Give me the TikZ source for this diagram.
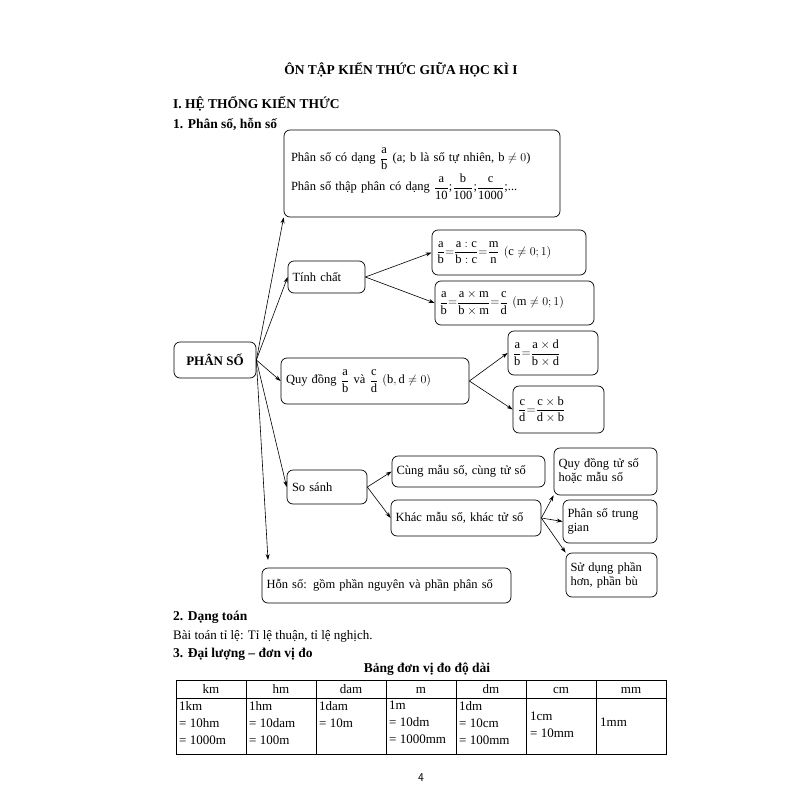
\documentclass[tikz,border=0pt]{standalone}
\usepackage{amsmath}
\usepackage{fontspec}
\setmainfont{Liberation Serif}
\usetikzlibrary{arrows.meta}
\begin{document}
\begin{tikzpicture}[x=1pt,y=-1pt,
  box/.style={draw,rounded corners=6pt,line width=0.7pt,inner sep=3pt,font=\fontsize{12.5}{14}\selectfont},
  ar/.style={-{Stealth[length=6pt,width=4pt]},line width=0.6pt},
  tx/.style={anchor=west,inner sep=0,font=\fontsize{13}{15}\selectfont},
  hd/.style={anchor=west,inner sep=0,font=\fontsize{13.5}{15}\selectfont\bfseries}]
\useasboundingbox (0,0) rectangle (803,803);
\newcommand{\fr}[2]{\ensuremath{\dfrac{\mathrm{#1}}{\mathrm{#2}}}}
\node[hd,anchor=center] (t) at (401,70) {ÔN TẬP KIẾN THỨC GIỮA HỌC KÌ I};
\node[hd] (h1) at (173,104) {I. HỆ THỐNG KIẾN THỨC};
\node[hd] (h2) at (173,124) {1. Phân số, hỗn số};
\node[box,minimum width=276,minimum height=87,text width=262,align=left] (top) at (422,173.5)
 {Phân số có dạng \fr{a}{b} (a; b là số tự nhiên, $\mathrm{b}\neq0$)\\[3pt]
  Phân số thập phân có dạng \fr{a}{10};\fr{b}{100};\fr{c}{1000};...};
\node[box,minimum width=77,minimum height=32,text width=68] (tc) at (326.5,277) {Tính chất};
\node[box,minimum width=154,minimum height=45,text width=145] (tc1) at (509,252.5) {\fr{a}{b}$=$\fr{a:c}{b:c}$=$\fr{m}{n} $(\mathrm c\neq0;1)$};
\node[box,minimum width=159,minimum height=44,text width=150] (tc2) at (514.5,303) {\fr{a}{b}$=$\fr{a\times m}{b\times m}$=$\fr{c}{d} $(\mathrm m\neq0;1)$};
\node[box,minimum width=82,minimum height=36,font=\fontsize{13}{14}\selectfont\bfseries] (ps) at (215,360) {PHÂN SỐ};
\node[box,minimum width=188,minimum height=46,text width=178] (qd) at (375,381) {Quy đồng \fr{a}{b} và \fr{c}{d} $(\mathrm{b,d}\neq0)$};
\node[box,minimum width=90,minimum height=44,text width=80] (qd1) at (553,353) {\fr{a}{b}$=$\fr{a\times d}{b\times d}};
\node[box,minimum width=91,minimum height=47,text width=81] (qd2) at (558.5,409.5) {\fr{c}{d}$=$\fr{c\times b}{d\times b}};
\node[box,minimum width=80,minimum height=34,text width=70] (ss) at (327,487) {So sánh};
\node[box,minimum width=153,minimum height=31,text width=144] (ss1) at (468.5,471.5) {Cùng mẫu số, cùng tử số};
\node[box,minimum width=150,minimum height=36,text width=141] (ss2) at (466,518) {Khác mẫu số, khác tử số};
\node[box,minimum width=103,minimum height=47,text width=94,align=left,font=\fontsize{12.5}{14}\selectfont] (k1) at (605.5,471.5) {Quy đồng tử số hoặc mẫu số};
\node[box,minimum width=94,minimum height=43,text width=85,align=left,font=\fontsize{12.5}{14}\selectfont] (k2) at (610,521.5) {Phân số trung gian};
\node[box,minimum width=91,minimum height=44,text width=82,align=left,font=\fontsize{12.5}{14}\selectfont] (k3) at (611.5,575) {Sử dụng phần hơn, phần bù};
\node[box,minimum width=249,minimum height=35,text width=240] (hs) at (386.5,585.5) {Hỗn số: gồm phần nguyên và phần phân số};
\coordinate (hsa) at (268,560);
\draw[ar] (ps.east) -- (top.south west);
\draw[ar] (ps.east) -- (tc.west);
\draw[ar] (ps.east) -- (qd.west);
\draw[ar] (ps.east) -- (ss.west);
\draw[ar] (ps.east) -- (hsa);
\draw[ar] (tc.east) -- (tc1.west);
\draw[ar] (tc.east) -- (tc2.west);
\draw[ar] (qd.east) -- (qd1.west);
\draw[ar] (qd.east) -- (qd2.west);
\draw[ar] (ss.east) -- (ss1.west);
\draw[ar] (ss.east) -- (ss2.west);
\draw[ar] (ss2.east) -- (k1.south west);
\draw[ar] (ss2.east) -- (k2.west);
\draw[ar] (ss2.east) -- (k3.north west);
\node[hd] (d2) at (173,617) {2. Dạng toán};
\node[tx] (d2t) at (173,636) {Bài toán tỉ lệ: Tỉ lệ thuận, tỉ lệ nghịch.};
\node[hd] (d3) at (173,654) {3. Đại lượng -- đơn vị đo};
\node[hd,anchor=center] (bt) at (427,669) {Bảng đơn vị đo độ dài};
\draw[line width=0.7pt] (176,680) rectangle (666,754);
\draw[line width=0.7pt] (176,698) -- (666,698);
\foreach \x in {246,316,386,456,526,596} \draw[line width=0.7pt] (\x,680) -- (\x,754);
\foreach \u [count=\i] in {km,hm,dam,m,dm,cm,mm}
  \node[tx,anchor=base] (u\i) at (141+70*\i,693.5) {\u};
\begin{scope}[every node/.style={tx,align=left,font=\fontsize{13}{17}\selectfont}]
\node[anchor=north west] (c1) at (179,701) {1km\\= 10hm\\= 1000m};
\node[anchor=north west] (c2) at (249,701) {1hm\\= 10dam\\= 100m};
\node[anchor=north west] (c3) at (319,701) {1dam\\= 10m};
\node[anchor=north west] (c4) at (389,701) {1m\\= 10dm\\= 1000mm};
\node[anchor=north west] (c5) at (459,701) {1dm\\= 10cm\\= 100mm};
\node[anchor=west] (c6) at (530,725) {1cm\\= 10mm};
\node[anchor=west] (c7) at (600,722) {1mm};
\end{scope}
\node[font=\fontsize{12}{14}\selectfont\sffamily] (pg) at (421,778) {4};
\end{tikzpicture}
\end{document}
